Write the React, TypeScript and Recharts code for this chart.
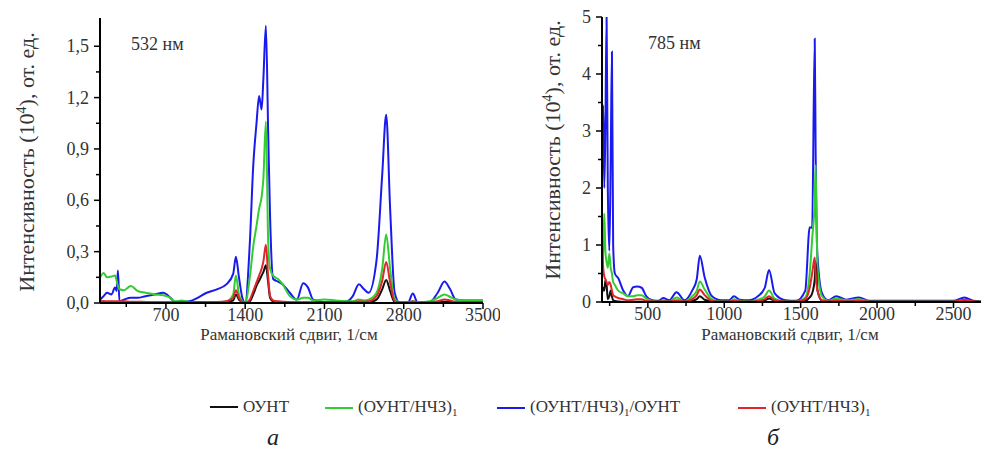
import { LineChart, Line, XAxis, YAxis } from "recharts";

const serif = '"Liberation Serif", "Times New Roman", serif';

// 532 nm spectra (intensity, 10^4 a.u.)
const shift532 = [120, 150, 180, 220, 250, 265, 276, 290, 330, 391, 450, 520, 600, 676, 740, 780, 840, 910, 980, 1060, 1150, 1236, 1294, 1318, 1345, 1375, 1400, 1441, 1471, 1500, 1523, 1545, 1560, 1583, 1603, 1620, 1647, 1690, 1730, 1794, 1856, 1912, 1955, 2000, 2100, 2200, 2300, 2350, 2404, 2450, 2490, 2560, 2610, 2645, 2680, 2720, 2766, 2840, 2880, 2925, 3030, 3100, 3160, 3210, 3260, 3350, 3500];
const ount532 = [0.003, 0.003, 0.003, 0.003, 0.003, 0.003, 0.003, 0.003, 0.003, 0.003, 0.003, 0.003, 0.003, 0.003, 0.003, 0.003, 0.003, 0.003, 0.003, 0.003, 0.003, 0.004, 0.015, 0.05, 0.02, 0.004, 0.0, 0.01, 0.05, 0.1, 0.13, 0.16, 0.18, 0.22, 0.12, 0.03, 0.008, 0.005, 0.004, 0.003, 0.003, 0.003, 0.003, 0.003, 0.003, 0.003, 0.003, 0.003, 0.005, 0.004, 0.005, 0.02, 0.08, 0.135, 0.07, 0.005, 0.002, 0.002, 0.005, 0.002, 0.002, 0.004, 0.008, 0.006, 0.003, 0.003, 0.003];
const green532 = [0.15, 0.175, 0.15, 0.155, 0.16, 0.13, 0.1, 0.08, 0.075, 0.1, 0.07, 0.06, 0.05, 0.045, 0.03, 0.01, 0.015, 0.005, 0.005, 0.005, 0.005, 0.01, 0.05, 0.16, 0.05, 0.01, 0.0, 0.15, 0.33, 0.45, 0.55, 0.62, 0.72, 1.06, 0.36, 0.2, 0.16, 0.14, 0.11, 0.04, 0.02, 0.03, 0.03, 0.015, 0.02, 0.015, 0.01, 0.01, 0.02, 0.015, 0.02, 0.06, 0.2, 0.4, 0.2, 0.02, 0.005, 0.005, 0.01, 0.005, 0.01, 0.03, 0.05, 0.035, 0.02, 0.015, 0.015];
const blue532 = [0.02, 0.04, 0.06, 0.05, 0.09, 0.07, 0.19, 0.01, 0.02, 0.03, 0.03, 0.04, 0.05, 0.06, 0.03, 0.005, 0.005, 0.01, 0.03, 0.06, 0.08, 0.11, 0.17, 0.27, 0.15, 0.03, 0.0, 0.35, 0.8, 1.05, 1.21, 1.13, 1.3, 1.62, 1.0, 0.5, 0.14, 0.125, 0.11, 0.06, 0.02, 0.115, 0.09, 0.02, 0.005, 0.005, 0.01, 0.04, 0.11, 0.08, 0.06, 0.25, 0.75, 1.1, 0.55, 0.06, 0.0, 0.005, 0.055, 0.0, 0.005, 0.06, 0.125, 0.08, 0.02, 0.015, 0.015];
const red532 = [0.01, 0.012, 0.01, 0.01, 0.01, 0.01, 0.01, 0.01, 0.01, 0.008, 0.008, 0.006, 0.005, 0.005, 0.004, 0.003, 0.003, 0.003, 0.004, 0.005, 0.006, 0.01, 0.03, 0.075, 0.03, 0.005, 0.0, 0.02, 0.07, 0.12, 0.16, 0.2, 0.24, 0.34, 0.155, 0.04, 0.015, 0.01, 0.008, 0.005, 0.004, 0.005, 0.005, 0.003, 0.003, 0.003, 0.003, 0.004, 0.01, 0.008, 0.01, 0.04, 0.13, 0.24, 0.12, 0.01, 0.003, 0.003, 0.01, 0.003, 0.004, 0.01, 0.02, 0.015, 0.006, 0.005, 0.005];

// 785 nm spectra
const shift785 = [200, 208, 215, 222, 230, 238, 248, 257, 265, 273, 284, 306, 339, 370, 404, 430, 459, 490, 530, 570, 600, 640, 688, 740, 790, 820, 840, 872, 920, 980, 1030, 1064, 1100, 1160, 1220, 1265, 1293, 1330, 1400, 1470, 1530, 1559, 1575, 1592, 1598, 1610, 1640, 1680, 1733, 1800, 1881, 1950, 2100, 2300, 2500, 2572, 2630, 2680];
const ount785 = [0.15, 0.25, 0.2, 0.38, 0.3, 0.05, 0.1, 0.2, 0.1, 0.03, 0.02, 0.01, 0.005, 0.005, 0.005, 0.005, 0.005, 0.005, 0.005, 0.005, 0.005, 0.005, 0.01, 0.005, 0.02, 0.05, 0.1, 0.04, 0.01, 0.005, 0.005, 0.01, 0.005, 0.005, 0.01, 0.03, 0.06, 0.02, 0.005, 0.005, 0.02, 0.08, 0.15, 0.4, 0.7, 0.2, 0.02, 0.005, 0.01, 0.005, 0.01, 0.005, 0.005, 0.005, 0.005, 0.02, 0.005, 0.005];
const green785 = [0.6, 0.9, 1.55, 0.9, 0.7, 0.6, 0.85, 0.6, 0.5, 0.35, 0.3, 0.2, 0.15, 0.1, 0.1, 0.12, 0.12, 0.06, 0.02, 0.01, 0.03, 0.01, 0.08, 0.01, 0.1, 0.2, 0.36, 0.22, 0.05, 0.01, 0.01, 0.05, 0.02, 0.01, 0.04, 0.1, 0.2, 0.06, 0.01, 0.01, 0.08, 0.5, 1.1, 1.8, 2.4, 0.6, 0.1, 0.02, 0.06, 0.03, 0.05, 0.01, 0.01, 0.01, 0.01, 0.03, 0.01, 0.01];
const blue785 = [2.5, 3.45, 2.0, 3.0, 5.0, 2.0, 0.9, 2.5, 4.39, 1.0, 0.5, 0.42, 0.2, 0.1, 0.26, 0.27, 0.25, 0.1, 0.03, 0.02, 0.07, 0.03, 0.17, 0.03, 0.2, 0.4, 0.81, 0.43, 0.1, 0.03, 0.03, 0.1, 0.04, 0.03, 0.1, 0.25, 0.56, 0.15, 0.03, 0.02, 0.2, 1.31, 1.3, 4.62, 2.6, 0.8, 0.15, 0.03, 0.1, 0.04, 0.08, 0.02, 0.02, 0.02, 0.02, 0.08, 0.02, 0.01];
const red785 = [1.19, 0.6, 0.45, 0.4, 0.35, 0.3, 0.35, 0.3, 0.2, 0.12, 0.1, 0.07, 0.05, 0.03, 0.04, 0.05, 0.05, 0.02, 0.01, 0.005, 0.01, 0.005, 0.03, 0.005, 0.05, 0.12, 0.22, 0.12, 0.02, 0.005, 0.005, 0.02, 0.01, 0.005, 0.02, 0.05, 0.1, 0.03, 0.005, 0.005, 0.05, 0.25, 0.5, 0.78, 0.5, 0.2, 0.03, 0.01, 0.03, 0.01, 0.02, 0.005, 0.005, 0.005, 0.005, 0.04, 0.01, 0.005];

const xTicks532 = [350, 700, 1050, 1400, 1750, 2100, 2450, 2800, 3150, 3500];
const xMajor532 = [700, 1400, 2100, 2800, 3500];
const yTicks532 = [0, 0.15, 0.3, 0.45, 0.6, 0.75, 0.9, 1.05, 1.2, 1.35, 1.5];
const yMajor532 = [0, 0.3, 0.6, 0.9, 1.2, 1.5];

const xTicks785 = [250, 500, 750, 1000, 1250, 1500, 1750, 2000, 2250, 2500];
const xMajor785 = [500, 1000, 1500, 2000, 2500];
const yTicks785 = [0, 0.5, 1, 1.5, 2, 2.5, 3, 3.5, 4, 4.5, 5];
const yMajor785 = [0, 1, 2, 3, 4, 5];

const colors = { ount: "#111111", green: "#33cc33", blue: "#1a1aee", red: "#e0262b" };

const data532 = shift532.map((s, i) => ({ s, ount: ount532[i], green: green532[i], blue: blue532[i], red: red532[i] }));
const data785 = shift785.map((s, i) => ({ s, ount: ount785[i], green: green785[i], blue: blue785[i], red: red785[i] }));

type TickProps = { x?: number; y?: number; payload?: { value: number } };

const tickText = { fontFamily: serif, fontSize: 18, fill: "#333" };

function makeXTick(majors: number[]) {
  return function XTick({ x = 0, y = 0, payload }: TickProps) {
    const v = payload?.value ?? 0;
    const major = majors.includes(v);
    return (
      <g>
        <line x1={x} x2={x} y1={y} y2={y + (major ? 6 : 4)} stroke="#000" strokeWidth={1.5} />
        {major && (
          <text x={x} y={y + 12} textAnchor="middle" dominantBaseline="central" {...tickText}>
            {v}
          </text>
        )}
      </g>
    );
  };
}

function makeYTick(majors: number[], fmt: (v: number) => string) {
  return function YTick({ x = 0, y = 0, payload }: TickProps) {
    const v = payload?.value ?? 0;
    const major = majors.some((m) => Math.abs(m - v) < 1e-9);
    return (
      <g>
        <line x1={x} x2={x - (major ? 6 : 4)} y1={y} y2={y} stroke="#000" strokeWidth={1.5} />
        {major && (
          <text x={x - 11} y={y} textAnchor="end" dominantBaseline="central" {...tickText}>
            {fmt(v)}
          </text>
        )}
      </g>
    );
  };
}

const XTick532 = makeXTick(xMajor532);
const YTick532 = makeYTick(yMajor532, (v) => v.toFixed(1).replace(".", ","));
const XTick785 = makeXTick(xMajor785);
const YTick785 = makeYTick(yMajor785, (v) => String(v));

function Spectrum({
  data,
  xDomain,
  yDomain,
  xTicks,
  yTicks,
  XTick,
  YTick,
  width,
  height,
  margin,
}: {
  data: Record<string, number>[];
  xDomain: [number, number];
  yDomain: [number, number];
  xTicks: number[];
  yTicks: number[];
  XTick: (p: TickProps) => JSX.Element;
  YTick: (p: TickProps) => JSX.Element;
  width: number;
  height: number;
  margin: { top: number; right: number; bottom: number; left: number };
}) {
  return (
    <LineChart width={width} height={height} data={data} margin={margin}>
      <XAxis
        dataKey="s"
        type="number"
        domain={xDomain}
        allowDataOverflow
        ticks={xTicks}
        interval={0}
        height={30}
        tickSize={0}
        tickMargin={0}
        tickLine={false}
        tick={XTick}
        axisLine={{ stroke: "#000", strokeWidth: 2 }}
      />
      <YAxis
        type="number"
        domain={yDomain}
        allowDataOverflow
        ticks={yTicks}
        interval={0}
        width={40}
        tickSize={0}
        tickMargin={0}
        tickLine={false}
        tick={YTick}
        axisLine={{ stroke: "#000", strokeWidth: 2 }}
      />
      <Line type="monotone" dataKey="blue" stroke={colors.blue} strokeWidth={2} dot={false} isAnimationActive={false} />
      <Line type="monotone" dataKey="green" stroke={colors.green} strokeWidth={2} dot={false} isAnimationActive={false} />
      <Line type="monotone" dataKey="ount" stroke={colors.ount} strokeWidth={2} dot={false} isAnimationActive={false} />
      <Line type="monotone" dataKey="red" stroke={colors.red} strokeWidth={2} dot={false} isAnimationActive={false} />
    </LineChart>
  );
}

const abs = (left: number, top: number): React.CSSProperties => ({ position: "absolute", left, top });

function YTitle({ cx, cy }: { cx: number; cy: number }) {
  return (
    <div
      style={{
        position: "absolute",
        left: cx,
        top: cy,
        transform: "translate(-50%, -50%) rotate(-90deg)",
        whiteSpace: "nowrap",
        fontFamily: serif,
        fontSize: 22,
        color: "#333",
      }}
    >
      Интенсивность (10<sup style={{ fontSize: 14 }}>4</sup>), от. ед.
    </div>
  );
}

function LegendItem({ left, color, children }: { left: number; color: string; children: React.ReactNode }) {
  return (
    <div style={{ ...abs(left, 397), display: "flex", alignItems: "center", fontFamily: serif, fontSize: 17, color: "#333", whiteSpace: "nowrap" }}>
      <span style={{ display: "inline-block", width: 28, height: 2, background: color, marginRight: 5 }} />
      <span>{children}</span>
    </div>
  );
}

const sub1 = <sub style={{ fontSize: 11 }}>1</sub>;

const xTitle = (cx: number): React.CSSProperties => ({
  position: "absolute",
  left: cx,
  top: 335,
  transform: "translate(-50%, -50%)",
  fontFamily: serif,
  fontSize: 17,
  color: "#333",
  whiteSpace: "nowrap",
});

export default function App() {
  return (
    <div style={{ position: "absolute", left: 0, top: 0, width: 981, height: 456, background: "#fff", overflow: "hidden" }}>
      <div style={abs(0, 0)}>
        <Spectrum
          data={data532}
          xDomain={[118, 3500]}
          yDomain={[0, 1.665]}
          xTicks={xTicks532}
          yTicks={yTicks532}
          XTick={XTick532}
          YTick={YTick532}
          width={500}
          height={340}
          margin={{ top: 18, right: 17, bottom: 7, left: 60 }}
        />
      </div>
      <div style={abs(490, 0)}>
        <Spectrum
          data={data785}
          xDomain={[200, 2680]}
          yDomain={[0, 5]}
          xTicks={xTicks785}
          yTicks={yTicks785}
          XTick={XTick785}
          YTick={YTick785}
          width={491}
          height={340}
          margin={{ top: 17, right: 0, bottom: 8, left: 72 }}
        />
      </div>

      <div style={{ ...abs(131, 34), fontFamily: serif, fontSize: 18, color: "#333" }}>532 нм</div>
      <div style={{ ...abs(648, 33), fontFamily: serif, fontSize: 18, color: "#333" }}>785 нм</div>

      <YTitle cx={27} cy={162} />
      <YTitle cx={553} cy={150} />

      <div style={xTitle(289)}>Рамановский сдвиг, 1/см</div>
      <div style={xTitle(790)}>Рамановский сдвиг, 1/см</div>

      <LegendItem left={210} color={colors.ount}>ОУНТ</LegendItem>
      <LegendItem left={325} color={colors.green}>(ОУНТ/НЧЗ){sub1}</LegendItem>
      <LegendItem left={497} color={colors.blue}>(ОУНТ/НЧЗ){sub1}/ОУНТ</LegendItem>
      <LegendItem left={738} color={colors.red}>(ОУНТ/НЧЗ){sub1}</LegendItem>

      <div style={{ position: "absolute", left: 273, top: 437, transform: "translate(-50%, -50%)", fontFamily: serif, fontSize: 24, fontStyle: "italic", color: "#222" }}>а</div>
      <div style={{ position: "absolute", left: 773, top: 437, transform: "translate(-50%, -50%)", fontFamily: serif, fontSize: 24, fontStyle: "italic", color: "#222" }}>б</div>
    </div>
  );
}
